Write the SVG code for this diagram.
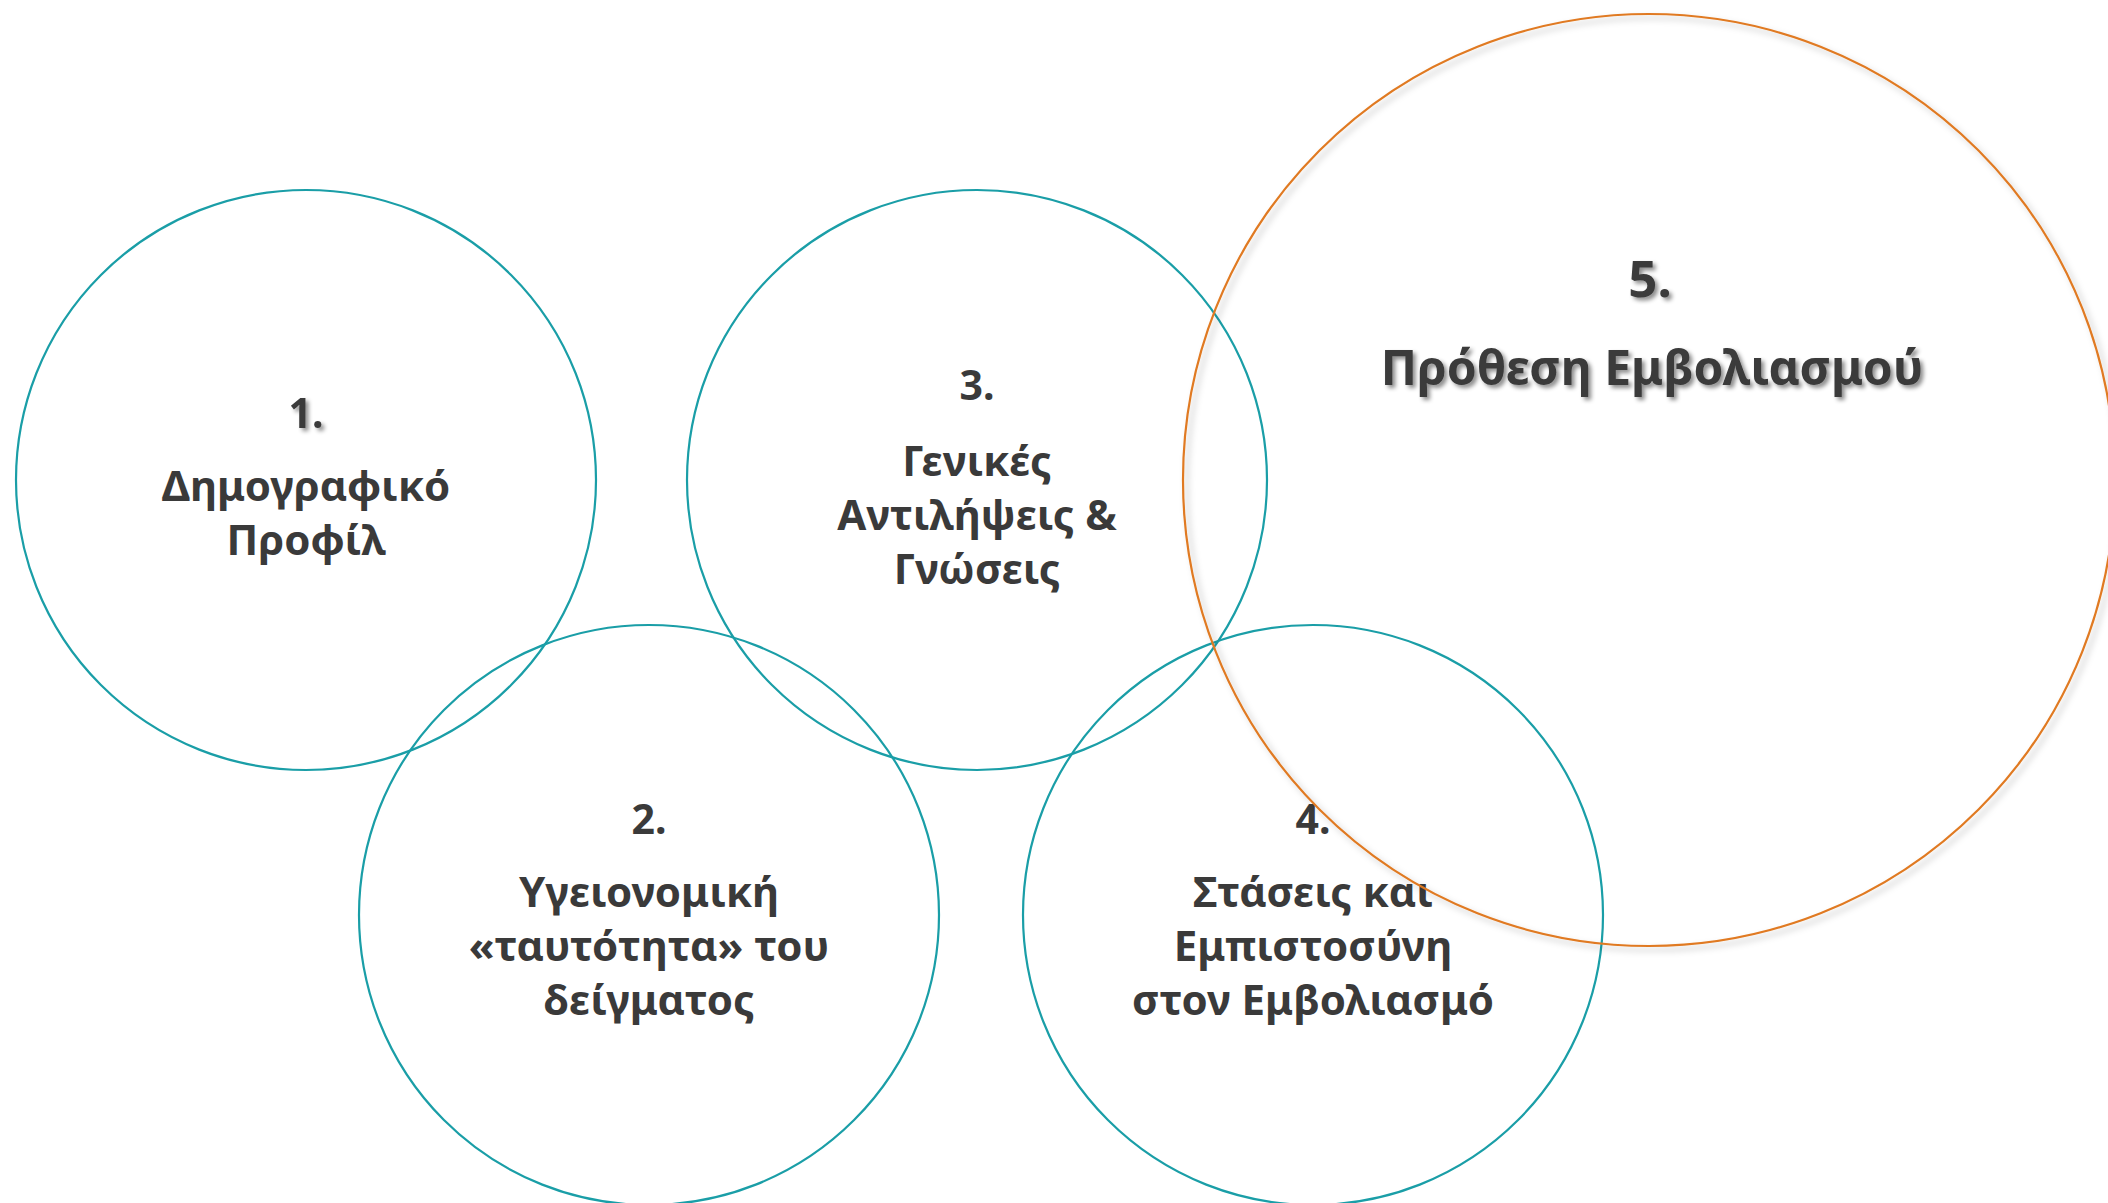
<svg xmlns="http://www.w3.org/2000/svg" width="2108" height="1203" viewBox="0 0 2108 1203">
  <defs>
    <filter id="shadow" x="-20%" y="-20%" width="140%" height="140%">
      <feDropShadow dx="3" dy="3" stdDeviation="2" flood-color="#000" flood-opacity="0.45"/>
    </filter>
    <filter id="cshadow" x="-10%" y="-10%" width="120%" height="120%">
      <feDropShadow dx="4" dy="4" stdDeviation="3" flood-color="#000" flood-opacity="0.25"/>
    </filter>
  </defs>
  <style>
    .ring { fill: none; stroke: #1a9ea7; stroke-width: 2.2; }
    .ring5 { fill: none; stroke: #e07a22; stroke-width: 2.2; }
    .t { font-family: "Noto Sans", "Open Sans", "DejaVu Sans", sans-serif; font-weight: bold; fill: #3a3a3a; text-anchor: middle; font-size: 42px; }
    .n { font-size: 41px; }
    .big { font-size: 48px; }
    .bign { font-size: 51px; }
    .sh { filter: url(#shadow); }
  </style>
  <rect width="2108" height="1203" fill="#ffffff"/>
  <g id="node1">
    <circle class="ring" cx="306" cy="480" r="290"/>
    <text class="t n sh" x="306" y="428">1.</text>
    <text class="t" x="306" y="501">Δημογραφικό</text>
    <text class="t" x="306" y="555">Προφίλ</text>
  </g>
  <g id="node3">
    <circle class="ring" cx="977" cy="480" r="290"/>
    <text class="t n" x="977" y="400">3.</text>
    <text class="t" x="977" y="476">Γενικές</text>
    <text class="t" x="977" y="530">Αντιλήψεις &amp;</text>
    <text class="t" x="977" y="584">Γνώσεις</text>
  </g>
  <g id="node2">
    <circle class="ring" cx="649" cy="915" r="290"/>
    <text class="t n" x="649" y="834">2.</text>
    <text class="t" x="649" y="907">Υγειονομική</text>
    <text class="t" x="649" y="961">«ταυτότητα» του</text>
    <text class="t" x="649" y="1015">δείγματος</text>
  </g>
  <g id="node4">
    <circle class="ring" cx="1313" cy="915" r="290"/>
    <text class="t n" x="1313" y="834">4.</text>
    <text class="t" x="1313" y="907">Στάσεις και</text>
    <text class="t" x="1313" y="961">Εμπιστοσύνη</text>
    <text class="t" x="1313" y="1015">στον Εμβολιασμό</text>
  </g>
  <g id="node5">
    <circle class="ring5" cx="1649" cy="480" r="466" filter="url(#cshadow)"/>
    <text class="t bign sh" x="1650" y="297">5.</text>
    <text class="t big sh" x="1652" y="385">Πρόθεση Εμβολιασμού</text>
  </g>
  <g id="connectors"></g>
</svg>
